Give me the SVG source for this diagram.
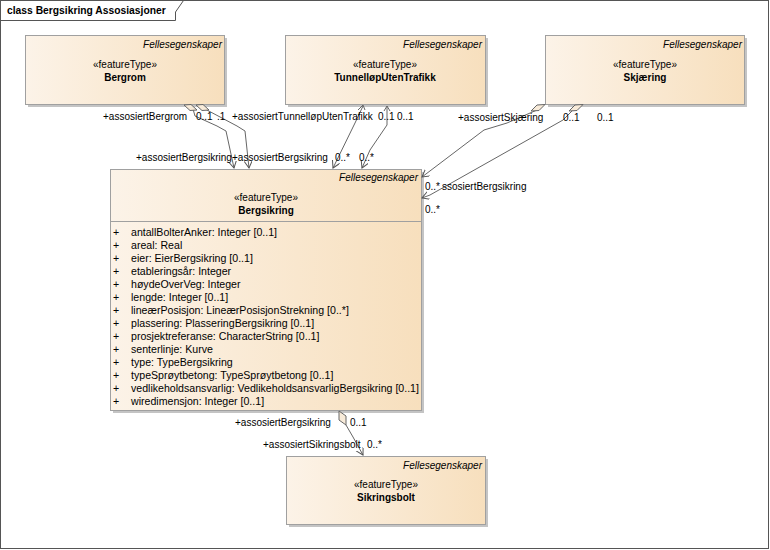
<svg xmlns="http://www.w3.org/2000/svg" width="770" height="550" viewBox="0 0 770 550">
<defs>
<linearGradient id="g" x1="0" y1="0" x2="1" y2="0">
<stop offset="0" stop-color="#fcf3e8"/>
<stop offset="1" stop-color="#f7dfbd"/>
</linearGradient>
<marker id="arr" markerWidth="10" markerHeight="10" refX="7" refY="4" orient="auto" markerUnits="userSpaceOnUse">
<path d="M0,0 L7,4 L0,8" fill="none" stroke="#555" stroke-width="1"/>
</marker>
</defs>
<style>
text{font-family:"Liberation Sans",Arial,sans-serif;font-size:10px;fill:#000}
.at{font-size:10.6px}
.box{fill:url(#g);stroke:#a0a0a0;stroke-width:1}
.sh{fill:#c4c4c4}
.it{font-style:italic;text-anchor:end}
.st{text-anchor:middle}
.nm{text-anchor:middle;font-weight:bold}
.ln{fill:none;stroke:#666;stroke-width:1}
.dia{fill:#f8ebd9;stroke:#666;stroke-width:1}
.sep{stroke:#a0a0a0;stroke-width:1}
</style>
<rect x="0.5" y="0.5" width="768" height="548" fill="#fff" stroke="#555"/>
<path d="M0.5,20.5 H175.5 V12 L183.5,0.5" fill="none" stroke="#555"/>
<text x="7" y="14" style="font-weight:bold;font-size:10.3px">class Bergsikring Assosiasjoner</text>

<g id="Bergrom">
<rect class="sh" x="28" y="38" width="199" height="69"/>
<rect class="box" x="25.5" y="35.5" width="199" height="69"/>
<text class="it" x="222" y="48">Fellesegenskaper</text>
<text class="st" x="125" y="68">«featureType»</text>
<text class="nm" x="125" y="81">Bergrom</text>
</g>

<g id="TunnellopUtenTrafikk">
<rect class="sh" x="288" y="38" width="200" height="69"/>
<rect class="box" x="285.5" y="35.5" width="200" height="69"/>
<text class="it" x="482" y="48">Fellesegenskaper</text>
<text class="st" x="385" y="68">«featureType»</text>
<text class="nm" x="385" y="81">TunnelløpUtenTrafikk</text>
</g>

<g id="Skjaering">
<rect class="sh" x="548" y="38" width="199" height="69"/>
<rect class="box" x="545.5" y="35.5" width="199" height="69"/>
<text class="it" x="742" y="48">Fellesegenskaper</text>
<text class="st" x="645" y="68">«featureType»</text>
<text class="nm" x="645" y="81">Skjæring</text>
</g>

<g id="Bergsikring">
<rect class="sh" x="113" y="172" width="311" height="241"/>
<rect class="box" x="110.5" y="169.5" width="311" height="241"/>
<line class="sep" x1="110.5" y1="221.5" x2="421.5" y2="221.5"/>
<text class="it" x="418" y="181">Fellesegenskaper</text>
<text class="st" x="266" y="201">«featureType»</text>
<text class="nm" x="266" y="214">Bergsikring</text>
<g class="at">
<text class="at" x="113" y="236">+</text><text class="at" x="131" y="236">antallBolterAnker: Integer [0..1]</text>
<text class="at" x="113" y="249">+</text><text class="at" x="131" y="249">areal: Real</text>
<text class="at" x="113" y="262">+</text><text class="at" x="131" y="262">eier: EierBergsikring [0..1]</text>
<text class="at" x="113" y="275">+</text><text class="at" x="131" y="275">etableringsår: Integer</text>
<text class="at" x="113" y="288">+</text><text class="at" x="131" y="288">høydeOverVeg: Integer</text>
<text class="at" x="113" y="301">+</text><text class="at" x="131" y="301">lengde: Integer [0..1]</text>
<text class="at" x="113" y="314">+</text><text class="at" x="131" y="314">lineærPosisjon: LineærPosisjonStrekning [0..*]</text>
<text class="at" x="113" y="327">+</text><text class="at" x="131" y="327">plassering: PlasseringBergsikring [0..1]</text>
<text class="at" x="113" y="340">+</text><text class="at" x="131" y="340">prosjektreferanse: CharacterString [0..1]</text>
<text class="at" x="113" y="353">+</text><text class="at" x="131" y="353">senterlinje: Kurve</text>
<text class="at" x="113" y="366">+</text><text class="at" x="131" y="366">type: TypeBergsikring</text>
<text class="at" x="113" y="379">+</text><text class="at" x="131" y="379">typeSprøytbetong: TypeSprøytbetong [0..1]</text>
<text class="at" x="113" y="392">+</text><text class="at" x="131" y="392">vedlikeholdsansvarlig: VedlikeholdsansvarligBergsikring [0..1]</text>
<text class="at" x="113" y="405">+</text><text class="at" x="131" y="405">wiredimensjon: Integer [0..1]</text>
</g>
</g>

<g id="Sikringsbolt">
<rect class="sh" x="289" y="459" width="199" height="68"/>
<rect class="box" x="286.5" y="456.5" width="199" height="68"/>
<text class="it" x="482" y="469">Fellesegenskaper</text>
<text class="st" x="386" y="488">«featureType»</text>
<text class="nm" x="386" y="501">Sikringsbolt</text>
</g>

<g id="connectors">
<polyline class="ln" points="193,109 195,116 217,126 226,131 234,168" marker-end="url(#arr)"/>
<polygon class="dia" points="184,105 191,104.5 197,110 190,110.5"/>
<polyline class="ln" points="205,109 237,126 245,131 249,168" marker-end="url(#arr)"/>
<polygon class="dia" points="196,105 203,104.5 209,110 202,110.5"/>

<polyline class="ln" points="363,106 355,123 333,168" marker-end="url(#arr)"/>
<path class="ln" d="M358,110 L363,105 L365,110"/>
<polyline class="ln" points="387,106 387,125 370,150 362,168" marker-end="url(#arr)"/>
<path class="ln" d="M384,111 L387,106 L390,111"/>

<polyline class="ln" points="537,110 507,123 484,130 422,177" marker-end="url(#arr)"/>
<polygon class="dia" points="537,105 545,104.5 539,110.5 531,111"/>
<polyline class="ln" points="573,110 563,120 430,195 422,198" marker-end="url(#arr)"/>
<polygon class="dia" points="575,105 583,104.5 577,110.5 569,111"/>

<polyline class="ln" points="346,425 353,437 363,455" marker-end="url(#arr)"/>
<polygon class="dia" points="339,411 346,416 346,425 339,420"/>

<text x="103" y="120">+assosiertBergrom</text>
<text x="196" y="120">0..1</text>
<text x="217" y="120">.1</text>
<text x="232" y="120">+assosiertTunnelløpUtenTrafikk</text>
<text x="378" y="120">0..1</text>
<text x="397" y="120">0..1</text>
<text x="136" y="161">+assosiertBergsikring</text>
<text x="232" y="161">+assosiertBergsikring</text>
<text x="335" y="161">0..*</text>
<text x="359" y="161">0..*</text>
<text x="458" y="121">+assosiertSkjæring</text>
<text x="563" y="121">0..1</text>
<text x="597" y="121">0..1</text>
<text x="425" y="190">0..*</text>
<text x="442" y="190">ssosiertBergsikring</text>
<text x="425" y="213">0..*</text>
<text x="235" y="426">+assosiertBergsikring</text>
<text x="350" y="426">0..1</text>
<text x="263" y="448">+assosiertSikringsbolt</text>
<text x="367" y="448">0..*</text>
</g>
</svg>
